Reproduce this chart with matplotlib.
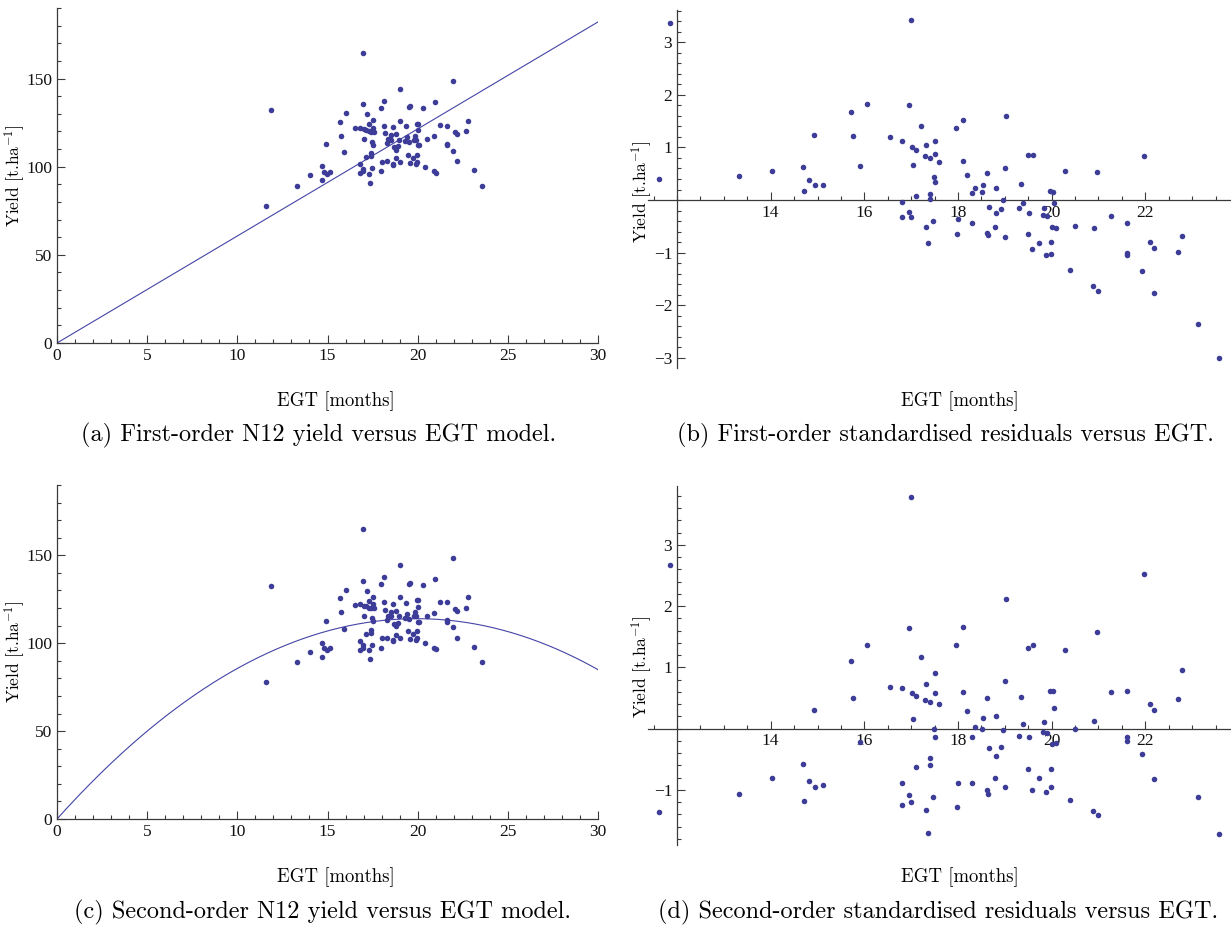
import matplotlib
matplotlib.use("Agg")
import matplotlib.pyplot as plt
from matplotlib.ticker import MultipleLocator, FixedLocator
import numpy as np

plt.rcParams['mathtext.fontset'] = 'cm'
plt.rcParams['axes.unicode_minus'] = True

# Estimated grain time (months) for each sample
egt = [11.84, 11.61, 13.33, 14.02, 14.68, 14.82, 14.71, 14.95, 15.12, 14.92,
       15.71, 15.75, 16.05, 15.91, 16.54, 16.80, 16.96, 16.99, 17.20, 17.01,
       17.11, 17.31, 17.51, 17.30, 17.41, 17.51, 17.60, 17.04, 17.49, 17.51,
       17.11, 17.41, 17.40, 16.81, 17.96, 18.11, 19.02, 18.11, 18.20, 18.61,
       19.00, 19.50, 19.60, 20.29, 20.97, 21.97, 18.30, 18.37, 18.53, 18.51,
       18.81, 19.34, 19.96, 20.03, 18.97, 20.04, 19.39, 18.67, 18.91, 19.30,
       19.83, 16.81, 16.96, 16.99, 17.46, 17.31, 17.37, 18.00, 18.30, 17.97,
       18.81, 19.51, 19.81, 19.89, 18.61, 18.64, 18.80, 19.01, 19.49, 19.59,
       19.73, 20.00, 20.09, 19.88, 19.98, 19.99, 20.49, 20.90, 21.26, 21.60,
       21.60, 21.60, 20.39, 20.89, 20.99, 22.09, 22.19, 21.94, 22.19, 22.70,
       22.79, 23.12, 23.58]

# N12 yield (t/ha)
yield_t = [132.3, 77.7, 89.2, 95.0, 100.4, 97.0, 92.3, 96.0, 97.0, 112.9,
           125.6, 117.6, 130.2, 108.1, 121.8, 122.1, 135.5, 164.7, 129.6, 121.3,
           121.0, 124.0, 126.4, 120.1, 119.9, 122.1, 119.8, 115.5, 114.1, 112.4,
           105.3, 107.7, 106.0, 101.3, 133.5, 137.5, 144.3, 123.3, 119.1, 122.3,
           126.1, 133.8, 134.5, 133.2, 136.8, 148.5, 113.4, 115.6, 117.7, 115.2,
           118.3, 122.8, 124.4, 124.3, 115.3, 120.6, 116.8, 111.0, 111.7, 114.3,
           117.5, 96.3, 98.8, 97.4, 99.0, 95.9, 90.9, 102.8, 103.2, 97.4,
           109.7, 113.9, 115.2, 115.3, 101.8, 101.1, 104.8, 102.8, 106.8, 102.2,
           105.0, 112.2, 112.2, 101.8, 102.9, 106.9, 115.6, 117.3, 123.5, 123.2,
           113.1, 112.2, 100.0, 97.5, 96.5, 119.7, 118.3, 109.1, 103.0, 120.0,
           126.1, 97.9, 89.1]

# Standardised residuals of the first-order model
resid_first = [3.36, 0.40, 0.46, 0.55, 0.63, 0.39, 0.17, 0.29, 0.29, 1.24,
               1.68, 1.22, 1.82, 0.64, 1.19, 1.12, 1.81, 3.42, 1.40, 1.00,
               0.95, 1.05, 1.12, 0.84, 0.79, 0.88, 0.72, 0.67, 0.44, 0.34,
               0.08, 0.11, 0.02, -0.04, 1.36, 1.53, 1.60, 0.74, 0.48, 0.52,
               0.60, 0.86, 0.86, 0.56, 0.53, 0.84, 0.13, 0.23, 0.29, 0.16,
               0.23, 0.30, 0.18, 0.15, 0.01, -0.06, -0.05, -0.13, -0.17, -0.16,
               -0.16, -0.32, -0.23, -0.32, -0.39, -0.51, -0.81, -0.36, -0.44, -0.65,
               -0.25, -0.25, -0.28, -0.30, -0.62, -0.67, -0.52, -0.70, -0.64, -0.93,
               -0.82, -0.51, -0.54, -1.05, -1.02, -0.80, -0.49, -0.53, -0.31, -0.44,
               -1.00, -1.05, -1.32, -1.63, -1.72, -0.80, -0.91, -1.34, -1.76, -0.99,
               -0.68, -2.36, -3.00]

# Standardised residuals of the second-order model
resid_second = [2.67, -1.36, -1.06, -0.80, -0.57, -0.85, -1.18, -0.95, -0.92, 0.31,
                1.10, 0.50, 1.37, -0.22, 0.68, 0.67, 1.64, 3.78, 1.17, 0.58,
                0.54, 0.73, 0.90, 0.46, 0.43, 0.58, 0.40, 0.15, -0.01, -0.13,
                -0.62, -0.48, -0.60, -0.88, 1.37, 1.66, 2.11, 0.60, 0.29, 0.50,
                0.77, 1.32, 1.37, 1.29, 1.57, 2.53, -0.13, 0.03, 0.18, -0.01,
                0.21, 0.52, 0.62, 0.61, -0.03, 0.34, 0.07, -0.32, -0.30, -0.12,
                0.10, -1.25, -1.08, -1.20, -1.12, -1.33, -1.71, -0.89, -0.89, -1.28,
                -0.44, -0.14, -0.05, -0.07, -1.01, -1.06, -0.80, -0.95, -0.66, -1.00,
                -0.81, -0.25, -0.23, -1.03, -0.95, -0.66, -0.01, 0.13, 0.60, 0.61,
                -0.14, -0.20, -1.16, -1.34, -1.41, 0.40, 0.30, -0.42, -0.83, 0.49,
                0.96, -1.12, -1.72]

# Fitted model coefficients (through the origin)
first_order_slope = 6.07
second_order_coef = (11.43, -0.2866)

captions = ["(a) First-order N12 yield versus EGT model.",
            "(b) First-order standardised residuals versus EGT.",
            "(c) Second-order N12 yield versus EGT model.",
            "(d) Second-order standardised residuals versus EGT."]

W, H = 1231, 925
POINT_COLOR = '#3d3d99'
LINE_COLOR = '#4444a6'
AXIS_COLOR = '#3a3a3a'
TICK_FONT = 'Liberation Serif'
TEXT_FONT = 'cmr10'


def frac_box(left, top, right, bottom):
    return [left / W, 1 - bottom / H, (right - left) / W, (bottom - top) / H]


def style_axes(ax):
    for side in ('top', 'right'):
        ax.spines[side].set_visible(False)
    for side in ('left', 'bottom'):
        ax.spines[side].set_color(AXIS_COLOR)
        ax.spines[side].set_linewidth(0.9)
    ax.tick_params(which='both', direction='in', color=AXIS_COLOR, width=0.8,
                   labelsize=12.5, labelcolor='#111111')
    ax.tick_params(which='major', length=5.5)
    ax.tick_params(which='minor', length=3.2)
    for lab in ax.get_xticklabels() + ax.get_yticklabels():
        lab.set_fontfamily(TICK_FONT)
    ax.patch.set_alpha(0)


fig = plt.figure(figsize=(W / 100, H / 100), dpi=100)

x = np.array(egt)
y = np.array(yield_t)
xs = np.linspace(0, 30, 300)

# Yield versus EGT with model curves
fits = [first_order_slope * xs,
        second_order_coef[0] * xs + second_order_coef[1] * xs ** 2]
for top, bottom, fit in [(8, 343, fits[0]), (485, 819, fits[1])]:
    ax = fig.add_axes(frac_box(57, top, 598, bottom))
    ax.plot(xs, fit, color=LINE_COLOR, lw=0.8)
    ax.scatter(x, y, s=16, color=POINT_COLOR, linewidths=0, zorder=3)
    ax.set_xlim(0, 30)
    ax.set_ylim(0, 190)
    ax.xaxis.set_major_locator(MultipleLocator(5))
    ax.xaxis.set_minor_locator(MultipleLocator(1))
    ax.yaxis.set_major_locator(MultipleLocator(50))
    ax.yaxis.set_minor_locator(MultipleLocator(10))
    style_axes(ax)

# Standardised residuals versus EGT
for top, bottom, res, ylim, majors in [
        (10, 368, resid_first, (-3.19, 3.61), [-3, -2, -1, 1, 2, 3]),
        (486, 845, resid_second, (-1.90, 3.96), [-1, 1, 2, 3])]:
    ax = fig.add_axes(frac_box(648, top, 1231, bottom))
    ax.scatter(x, res, s=16, color=POINT_COLOR, linewidths=0, zorder=3,
               clip_on=False)
    ax.set_xlim(11.38, 23.83)
    ax.set_ylim(*ylim)
    ax.spines['left'].set_position(('data', 12))
    ax.spines['bottom'].set_position(('data', 0))
    ax.xaxis.set_major_locator(FixedLocator([14, 16, 18, 20, 22]))
    ax.xaxis.set_minor_locator(MultipleLocator(0.5))
    ax.yaxis.set_major_locator(FixedLocator(majors))
    ax.yaxis.set_minor_locator(MultipleLocator(0.2))
    style_axes(ax)

# Axis titles and captions
ylabel = 'Yield [t.ha$^{-1}$]'
for px, py in [(15, 176), (642, 192), (15, 652), (642, 667)]:
    fig.text(px / W, 1 - py / H, ylabel, rotation=90, ha='center', va='center',
             fontsize=12.5, family=TEXT_FONT)
for px, py in [(336, 401), (960, 401), (336, 877), (960, 877)]:
    fig.text(px / W, 1 - py / H, 'EGT [months]', ha='center', va='center',
             fontsize=13.5, family=TEXT_FONT)
for (px, py), cap in zip([(319, 435), (945, 435), (322, 912), (938, 912)], captions):
    fig.text(px / W, 1 - py / H, cap, ha='center', va='center',
             fontsize=17.5, family=TEXT_FONT)

fig.savefig('out.png', dpi=100)
